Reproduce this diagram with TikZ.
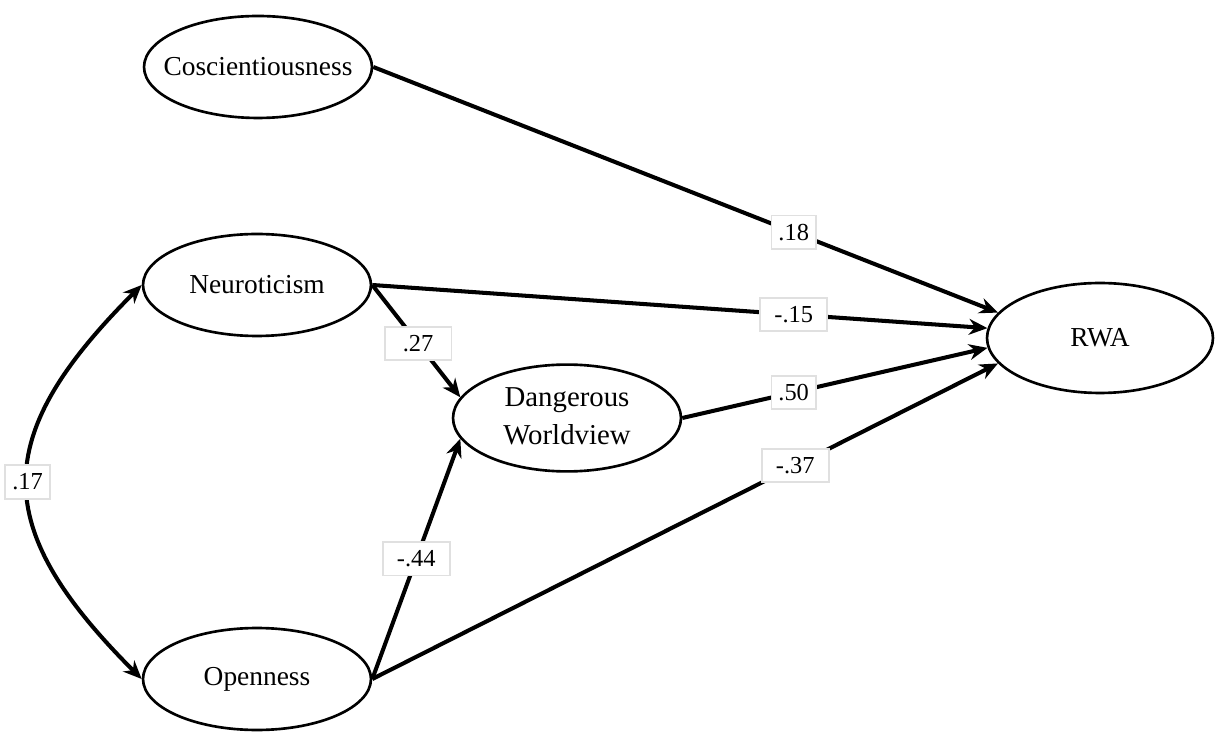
\documentclass[tikz,border=0pt]{standalone}
\usepackage{fontspec}
\setmainfont{Liberation Serif}
\usetikzlibrary{shapes.geometric,arrows.meta}
\tikzset{
	latent/.style={ellipse, draw, line width=1.5pt, inner sep=0pt, minimum width=4.56cm, minimum height=2.04cm, font=\fontsize{15.6}{21}\selectfont},
	effect/.style={line width=2.3pt, -{Stealth[length=10.5pt, width=9pt]}},
	coef/.style={fill=white, draw=black!12, line width=1pt, inner xsep=4pt, inner ysep=0pt, minimum height=19pt, font=\fontsize{13.9}{16}\selectfont},
	widecoef/.style={minimum width=38pt}
}

\begin{document}
\begin{tikzpicture}[x=0.02cm, y=-0.02cm]
			%%%%% START %%%%%
			\useasboundingbox (0, 0) rectangle (1223, 742);
			
			\node[latent] (cons) at (258, 67) {\makebox[0pt]{Coscientiousness}};
			\node[latent] (neu) at (257, 285) {\makebox[0pt]{Neuroticism}};
			\node[latent] (open) at (257, 679) {\makebox[0pt]{Openness}};
			\node[latent] (dw) at (567, 418) {\makebox[0pt]{\fontsize{16.4}{21.5}\selectfont\begin{tabular}{@{}c@{}}Dangerous\\Worldview\end{tabular}}};
			\node[latent, minimum width=4.52cm, minimum height=2.2cm] (rwa) at (1100, 338) {\makebox[0pt]{RWA}};
			
			\draw[effect] (cons.east) -- node[coef, pos=0.673] (c18) {.18} (rwa.166);
			\draw[effect] (neu.east) -- node[coef, widecoef, pos=0.685] (c15) {-.15} (rwa.175);
			\draw[effect] (dw.east) -- node[coef, pos=0.365] (c50) {.50} (rwa.185);
			\draw[effect] (open.east) -- node[coef, widecoef, pos=0.676] (c37) {-.37} (rwa.194);
			
			\draw[effect] (neu.east) -- node[coef, widecoef, pos=0.52] (c27) {.27} (dw.169);
			\draw[effect] (open.east) -- node[coef, widecoef, pos=0.5] (c44) {-.44} (dw.191);
			
			\draw[effect, {Stealth[length=10.5pt, width=9pt]}-{Stealth[length=10.5pt, width=9pt]}] (neu.west) to[out=225, in=135, looseness=1.4] node[coef, pos=0.5] (c17) {.17} (open.west);
			
			%%%%% END %%%%%
\end{tikzpicture}
\end{document}
